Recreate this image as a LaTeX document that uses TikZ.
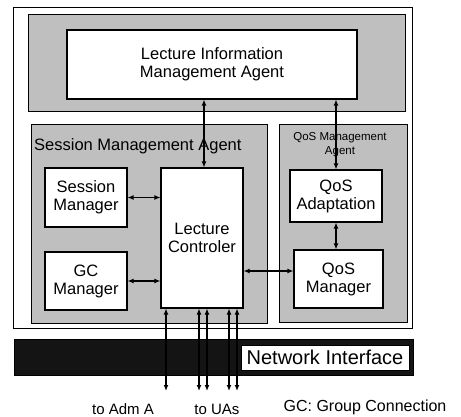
\documentclass[tikz,border=0pt]{standalone}
\usepackage{fontspec}
\setmainfont{Liberation Sans}
\usetikzlibrary{arrows.meta}
\begin{document}
\begin{tikzpicture}[x=1pt,y=-1pt,
  shadebox/.style={draw=black, line width=1pt, fill=black!25, inner sep=0pt},
  wbox/.style={draw=black, line width=1.1pt, fill=white, align=center, inner sep=0pt, font=\fontsize{16.5}{18}\selectfont},
  dbl/.style={{Latex[length=6pt,width=5pt]}-{Latex[length=6pt,width=5pt]}, line width=1.2pt},
  lbl/.style={font=\fontsize{15}{17}\selectfont, inner sep=0pt}
]
\useasboundingbox (0,0) rectangle (461,417);
% outer frame
\node[draw, line width=0.9pt, minimum width=399pt, minimum height=321pt, inner sep=0pt] (outer) at (212.5,167.5) {};
% shaded containers
\node[shadebox, minimum width=377pt, minimum height=97pt] (topc) at (216.5,63.5) {};
\node[shadebox, minimum width=236pt, minimum height=198pt] (sma) at (149,224) {};
\node[shadebox, minimum width=128pt, minimum height=197pt] (qma) at (343,223.5) {};
% container labels
\node[anchor=west, inner sep=0pt, font=\fontsize{16.5}{18}\selectfont] (smalbl) at (34,146) {Session Management Agent};
\node[align=center, inner sep=0pt, font=\fontsize{11.5}{14}\selectfont] (qmalbl) at (340,145) {QoS Management\\Agent};
% white boxes
\node[wbox, minimum width=290pt, minimum height=69pt] (lima) at (212,64.5) {Lecture Information\\Management Agent};
\node[wbox, minimum width=82pt, minimum height=59pt] (sm) at (86,197.5) {Session\\Manager};
\node[wbox, minimum width=82pt, minimum height=58pt] (gc) at (86,281) {GC\\Manager};
\node[wbox, minimum width=82pt, minimum height=140pt] (lc) at (202,238) {Lecture\\Controler};
\node[wbox, minimum width=92pt, minimum height=52pt] (qa) at (336,196) {QoS\\Adaptation};
\node[wbox, minimum width=89pt, minimum height=58pt] (qm) at (338.5,279) {QoS\\Manager};
% network interface
\node[fill=black!92, draw=black, minimum width=399pt, minimum height=36pt, inner sep=0pt] (nibar) at (213.5,357) {};
\node[fill=white, draw=black, line width=0.8pt, minimum width=168pt, minimum height=25pt, inner sep=0pt, font=\fontsize{20}{22}\selectfont] (ni) at (325,357.5) {Network Interface};
% helper coordinates
\coordinate (c1) at (204,0);
\coordinate (h3) at (0,271);
\coordinate (b1) at (166,391);
\coordinate (b2) at (199,391);
\coordinate (b3) at (207,391);
\coordinate (b4) at (229,391);
\coordinate (b5) at (237,391);
% connectors
\draw[dbl] (c1 |- lc.north) -- (c1 |- lima.south);
\draw[dbl] (qa.north) -- (qa.north |- lima.south);
\draw[dbl] (sm.east) -- (sm.east -| lc.west);
\draw[dbl] (gc.east) -- (gc.east -| lc.west);
\draw[dbl] (lc.east |- h3) -- (qm.west |- h3);
\draw[dbl] (qa.south) -- (qa.south |- qm.north);
\foreach \b in {b1,b2,b3,b4,b5}{
  \draw[dbl] (\b) -- (\b |- lc.south);
}
% labels
\node[lbl] (toadm) at (123,409) {to Adm A};
\node[lbl] (touas) at (217,409) {to UAs};
\node[lbl, font=\fontsize{16}{18}\selectfont] (gcnote) at (365,407) {GC: Group Connection};
\end{tikzpicture}
\end{document}
